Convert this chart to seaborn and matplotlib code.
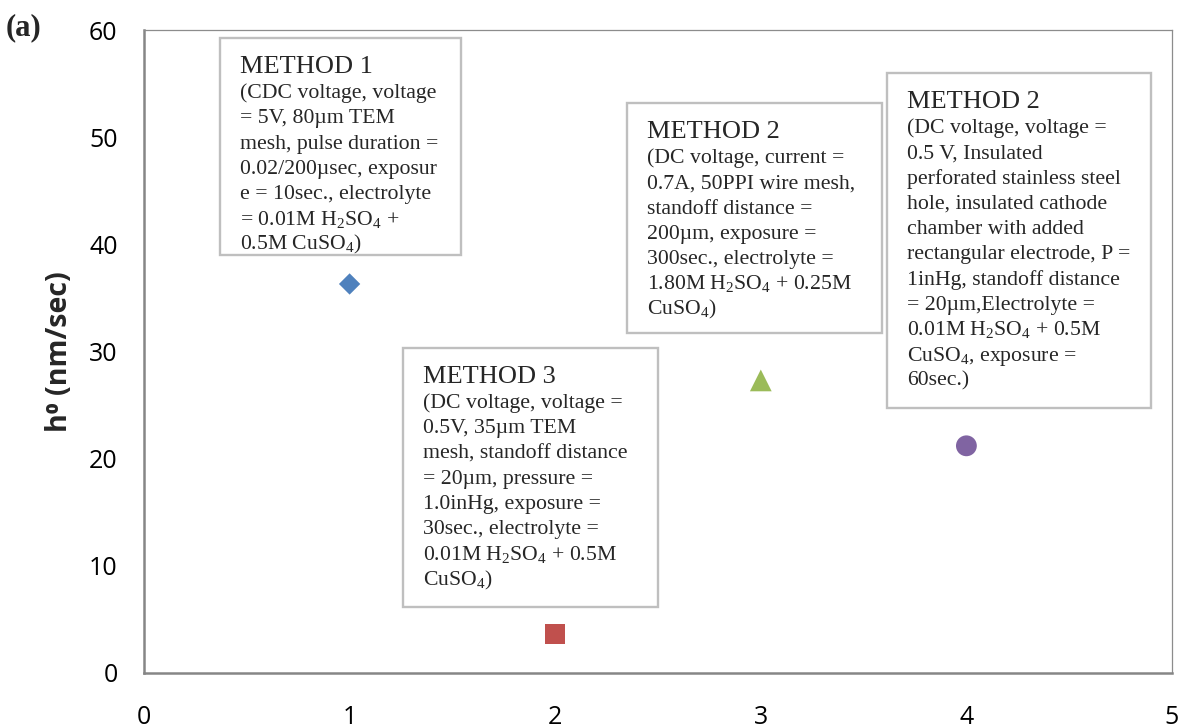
import numpy as np
import pandas as pd
import seaborn as sns
import matplotlib.pyplot as plt
from matplotlib.patches import Rectangle
from matplotlib.ticker import MultipleLocator
from matplotlib.transforms import offset_copy

# values
x_pos = [1, 2, 3, 4]
h0_rate = [36.3, 3.6, 27.3, 21.2]
point_ids = ['m1', 'm3', 'm2a', 'm2b']
point_colors = ['#4F81BD', '#C0504D', '#9BBB59', '#8064A2']
point_markers = ['D', 's', '^', 'o']
point_sizes = [118, 205, 245, 225]

x_ticks = [0, 1, 2, 3, 4, 5]
y_ticks = [0, 10, 20, 30, 40, 50, 60]

box_titles = ['METHOD 1', 'METHOD 3', 'METHOD 2', 'METHOD 2']
box_lines = [
    ['(CDC voltage, voltage',
     '= 5V, 80µm TEM',
     'mesh, pulse duration =',
     '0.02/200µsec, exposur',
     'e = 10sec., electrolyte',
     '= 0.01M H$_2$SO$_4$ +',
     '0.5M CuSO$_4$)'],
    ['(DC voltage, voltage =',
     '0.5V, 35µm TEM',
     'mesh, standoff distance',
     '= 20µm, pressure =',
     '1.0inHg, exposure =',
     '30sec., electrolyte =',
     '0.01M H$_2$SO$_4$ + 0.5M',
     'CuSO$_4$)'],
    ['(DC voltage, current =',
     '0.7A, 50PPI wire mesh,',
     'standoff distance =',
     '200µm, exposure =',
     '300sec., electrolyte =',
     '1.80M H$_2$SO$_4$ + 0.25M',
     'CuSO$_4$)'],
    ['(DC voltage, voltage =',
     '0.5 V, Insulated',
     'perforated stainless steel',
     'hole, insulated cathode',
     'chamber with added',
     'rectangular electrode, P =',
     '1inHg, standoff distance',
     '= 20µm,Electrolyte =',
     '0.01M H$_2$SO$_4$ + 0.5M',
     'CuSO$_4$, exposure =',
     '60sec.)'],
]
# box extents in data units: left, right, top, bottom
box_extent = [
    (0.370, 1.542, 59.25, 39.0),
    (1.260, 2.500, 30.33, 6.16),
    (2.349, 3.589, 53.19, 31.73),
    (3.614, 4.898, 55.99, 24.73),
]

sns.set_style('white')
plt.rcParams['font.family'] = ['Open Sans', 'DejaVu Sans']
plt.rcParams['mathtext.fontset'] = 'custom'
plt.rcParams['mathtext.rm'] = 'Liberation Serif'
plt.rcParams['mathtext.it'] = 'Liberation Serif:italic'
plt.rcParams['mathtext.bf'] = 'Liberation Serif:bold'
plt.rcParams['mathtext.default'] = 'rm'

axis_grey = '#868686'

fig = plt.figure(figsize=(11.82, 7.28), dpi=100)
ax = fig.add_axes([144 / 1182, 55 / 728, 1028 / 1182, 643 / 728])

df = pd.DataFrame({'x': x_pos, 'h0': h0_rate, 'pt': point_ids})
sns.scatterplot(data=df, x='x', y='h0', hue='pt', style='pt', size='pt',
                palette=dict(zip(point_ids, point_colors)),
                markers=dict(zip(point_ids, point_markers)),
                sizes=dict(zip(point_ids, point_sizes)),
                linewidth=0, legend=False, ax=ax, zorder=5)

ax.set_xlim(0, 5)
ax.set_ylim(0, 60)
ax.set_xticks(x_ticks)
ax.set_yticks(y_ticks)
ax.yaxis.set_minor_locator(MultipleLocator(2))
ax.tick_params(axis='both', which='both', direction='in', color=axis_grey,
               width=1.3, labelsize=18, labelcolor='black')
ax.tick_params(axis='y', which='major', length=6, pad=19)
ax.tick_params(axis='y', which='minor', length=6)
ax.tick_params(axis='x', which='major', length=6, pad=23)

for side in ['left', 'bottom']:
    ax.spines[side].set_color(axis_grey)
    ax.spines[side].set_linewidth(1.8)
for side in ['top', 'right']:
    ax.spines[side].set_color('#8C8C8C')
    ax.spines[side].set_linewidth(0.9)

ax.set_xlabel('')
ax.set_ylabel('h⁰ (nm/sec)', fontsize=20.5, fontweight='bold')
ax.yaxis.label.set_va('center')
ax.yaxis.set_label_coords(-0.082, 0.5)

# text boxes
for title, lines, (l, r, t, b) in zip(box_titles, box_lines, box_extent):
    ax.add_patch(Rectangle((l, b), r - l, t - b, facecolor='white',
                           edgecolor='#BFBFBF', linewidth=1.7, zorder=3))
    tr = offset_copy(ax.transData, fig=fig, x=20, y=-35, units='dots')
    ax.text(l, t, title, transform=tr, fontsize=19, family='Liberation Serif',
            va='baseline', ha='left', zorder=4)
    for j, line in enumerate(lines):
        tr = offset_copy(ax.transData, fig=fig, x=20, y=-(60 + 25.3 * j), units='dots')
        ax.text(l, t, line, transform=tr, fontsize=15.7, family='Liberation Serif',
                va='baseline', ha='left', zorder=4)

fig.text(6 / 1182, 1 - 35 / 728, '(a)', family='Liberation Serif',
         fontweight='bold', fontsize=22, va='baseline')

fig.savefig('out.png', dpi=100)
